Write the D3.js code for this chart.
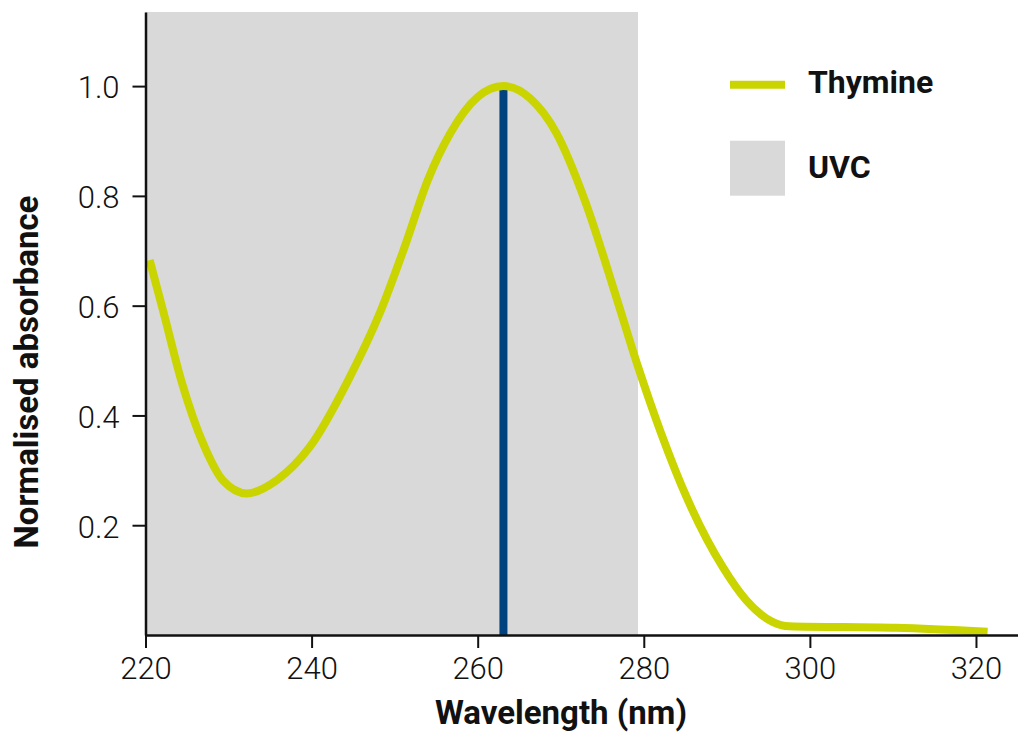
<!DOCTYPE html>
<html>
<head>
<meta charset="utf-8">
<script src="https://cdn.jsdelivr.net/npm/d3@7"></script>
<style>
  html, body { margin: 0; padding: 0; background: #ffffff; }
  svg { display: block; }
  text { font-family: Roboto, "Noto Sans", "DejaVu Sans", sans-serif; fill: #111; }
</style>
</head>
<body>
<svg id="chart" width="1019" height="736"></svg>
<script>
// ---- data ----
const wavelength = [220.5, 222.2, 224.3, 227.1, 229.3, 232.2, 235.8, 239.8, 244.4, 248.2, 251.2, 254.0, 256.7, 260.0, 263.1, 266.3, 269.5, 272.9, 276.8, 279.3, 282.1, 285.3, 289.5, 292.3, 295.5, 297.5, 310.4, 321.4];
const absorbance = [0.683, 0.586, 0.464, 0.343, 0.282, 0.258, 0.282, 0.343, 0.464, 0.586, 0.707, 0.829, 0.914, 0.980, 1.000, 0.978, 0.914, 0.792, 0.610, 0.489, 0.367, 0.246, 0.124, 0.064, 0.024, 0.016, 0.013, 0.006];
const xTicks = [220, 240, 260, 280, 300, 320];
const yTicks = [0.2, 0.4, 0.6, 0.8, 1.0];
const uvcRange = [220, 279.3];
const peakWavelength = 263.1;
const seriesName = "Thymine";
const bandName = "UVC";
const xTitle = "Wavelength (nm)";
const yTitle = "Normalised absorbance";

// ---- layout ----
const svg = d3.select("#chart");
const x = d3.scaleLinear().domain([220, 325]).range([145.5, 1017.5]);
const y = d3.scaleLinear().domain([0, 1.135]).range([635, 12]);

const lime = "#c9d400";
const blue = "#00427f";
const grey = "#d9d9d9";

// UVC band
svg.append("rect")
  .attr("x", x(uvcRange[0]))
  .attr("y", y(1.135))
  .attr("width", x(uvcRange[1]) - x(uvcRange[0]))
  .attr("height", y(0) - y(1.135))
  .attr("fill", grey);

// peak line
svg.append("line")
  .attr("x1", x(peakWavelength)).attr("x2", x(peakWavelength))
  .attr("y1", y(0)).attr("y2", y(0.993))
  .attr("stroke", blue).attr("stroke-width", 8);

// curve
const pts = wavelength.map((w, i) => [w, absorbance[i]]);
const line = d3.line().x(d => x(d[0])).y(d => y(d[1])).curve(d3.curveMonotoneX);
svg.append("path")
  .attr("d", line(pts))
  .attr("fill", "none")
  .attr("stroke", lime)
  .attr("stroke-width", 8)
  .attr("stroke-linejoin", "round")
  .attr("stroke-linecap", "butt");

// axes
const xAxis = d3.axisBottom(x).tickValues(xTicks).tickSize(13).tickSizeOuter(0).tickPadding(9).tickFormat(d3.format("d"));
const yAxis = d3.axisLeft(y).tickValues(yTicks).tickSize(13).tickSizeOuter(0).tickPadding(13).tickFormat(d3.format(".1f"));

const gx = svg.append("g").attr("transform", `translate(0,${y(0)})`).call(xAxis);
const gy = svg.append("g").attr("transform", `translate(${x(220)},0)`).call(yAxis);

[gx, gy].forEach(g => {
  g.select(".domain").attr("stroke", "#111").attr("stroke-width", 2.5);
  g.selectAll(".tick line").attr("stroke", "#111").attr("stroke-width", 2);
  g.selectAll(".tick text")
    .attr("fill", "#111")
    .style("font-family", "Roboto, sans-serif")
    .style("font-weight", 300)
    .style("font-size", "31px");
});
gy.selectAll(".tick text").attr("dy", "0.38em");

// axis titles
svg.append("text")
  .attr("x", 561).attr("y", 724)
  .attr("text-anchor", "middle")
  .style("font-weight", 700).style("font-size", "33px")
  .text(xTitle);

svg.append("text")
  .attr("transform", "translate(38,372) rotate(-90)")
  .attr("text-anchor", "middle")
  .style("font-weight", 700).style("font-size", "33px")
  .text(yTitle);

// legend
svg.append("line")
  .attr("x1", 730).attr("x2", 785).attr("y1", 84.7).attr("y2", 84.7)
  .attr("stroke", lime).attr("stroke-width", 8);
svg.append("text")
  .attr("x", 808).attr("y", 93.3)
  .style("font-weight", 700).style("font-size", "32px")
  .text(seriesName);
svg.append("rect")
  .attr("x", 730).attr("y", 140.7).attr("width", 55).attr("height", 55)
  .attr("fill", grey);
svg.append("text")
  .attr("x", 808).attr("y", 177.7)
  .style("font-weight", 700).style("font-size", "32px")
  .text(bandName);
</script>
</body>
</html>
